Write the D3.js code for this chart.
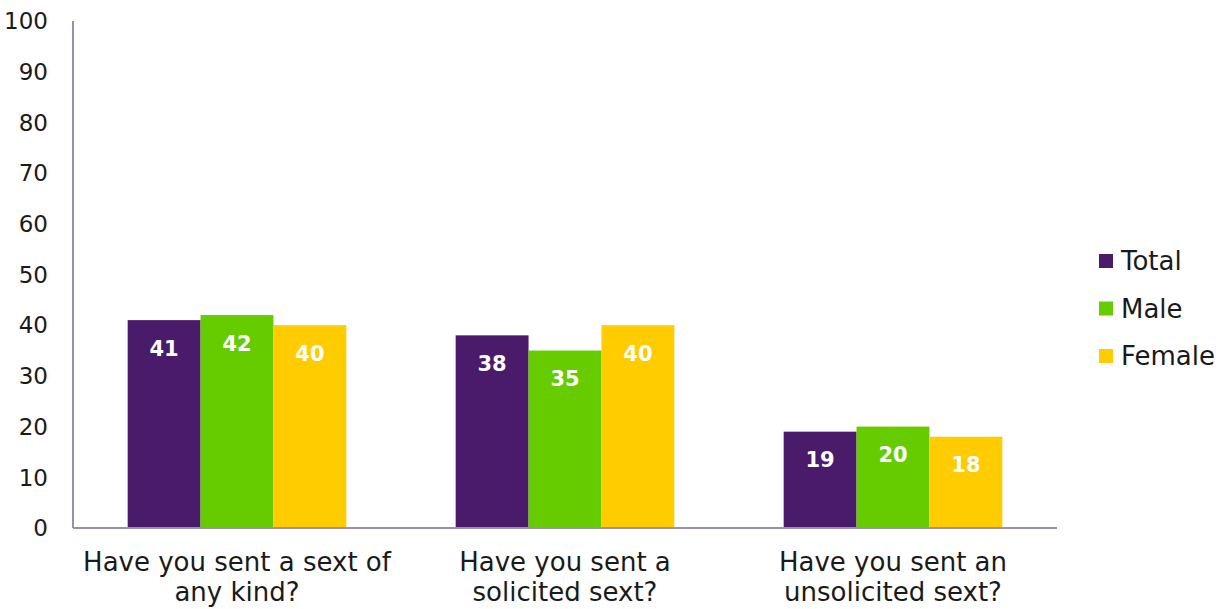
<!DOCTYPE html>
<html>
<head>
<meta charset="utf-8">
<script src="https://cdn.jsdelivr.net/npm/d3@7"></script>
<style>
  body { margin: 0; background: #fff; }
  svg text { font-family: "DejaVu Sans", sans-serif; fill: #1a1a1a; }
</style>
</head>
<body>
<svg id="chart" width="1228" height="609"></svg>
<script>
var categories = [["Have you sent a sext of", "any kind?"], ["Have you sent a", "solicited sext?"], ["Have you sent an", "unsolicited sext?"]];
var seriesNames = ["Total", "Male", "Female"];
var total = [41, 38, 19];
var male = [42, 35, 20];
var female = [40, 40, 18];
var yTicks = [0, 10, 20, 30, 40, 50, 60, 70, 80, 90, 100];
var colors = ["#4a1a6b", "#66cc00", "#ffcc00"];

var series = [total, male, female];

var svg = d3.select("#chart"),
    margin = {top: 21, right: 171, bottom: 81, left: 73},
    width = +svg.attr("width") - margin.left - margin.right,
    height = +svg.attr("height") - margin.top - margin.bottom;

var g = svg.append("g").attr("transform", "translate(" + margin.left + "," + margin.top + ")");

var x0 = d3.scaleBand().domain(d3.range(categories.length)).range([0, width]).paddingInner(0).paddingOuter(0);
var x1 = d3.scaleBand().domain(d3.range(seriesNames.length)).range([0, x0.bandwidth()]).paddingInner(0).paddingOuter(0.75);
var y = d3.scaleLinear().domain([0, 100]).range([height, 0]);

// y tick labels
g.selectAll(".ytick").data(yTicks).enter().append("text")
    .attr("x", -25)
    .attr("y", function (d) { return y(d); })
    .attr("dy", "0.36em")
    .attr("text-anchor", "end")
    .style("font-size", "23px")
    .text(function (d) { return d; });

// bars
var groups = g.selectAll(".grp").data(categories).enter().append("g")
    .attr("transform", function (d, i) { return "translate(" + x0(i) + ",0)"; });

groups.each(function (c, ci) {
    var gg = d3.select(this);
    series.forEach(function (s, si) {
        gg.append("rect")
            .attr("x", x1(si))
            .attr("width", x1.bandwidth())
            .attr("y", y(s[ci]))
            .attr("height", height - y(s[ci]))
            .attr("fill", colors[si]);
        gg.append("text")
            .attr("x", x1(si) + x1.bandwidth() / 2)
            .attr("y", y(s[ci]) + 28)
            .attr("dy", "0.36em")
            .attr("text-anchor", "middle")
            .style("font-size", "21px")
            .style("font-weight", "bold")
            .style("fill", "#fff")
            .text(s[ci]);
    });
    // category label
    var t = gg.append("text")
        .attr("x", x0.bandwidth() / 2)
        .attr("y", height + 34)
        .attr("text-anchor", "middle")
        .style("font-size", "26px");
    c.forEach(function (line, li) {
        t.append("tspan").attr("x", x0.bandwidth() / 2).attr("dy", li === 0 ? "0.36em" : "1.15em").text(line);
    });
});

// axis lines
g.append("line").attr("x1", 0).attr("x2", 0).attr("y1", 0).attr("y2", height)
    .attr("stroke", "#9b8fb0").attr("stroke-width", 2);
g.append("line").attr("x1", 0).attr("x2", width).attr("y1", height).attr("y2", height)
    .attr("stroke", "#9b8fb0").attr("stroke-width", 2);

// legend
var legend = svg.append("g").attr("transform", "translate(1099,261)");
seriesNames.forEach(function (n, i) {
    var lg = legend.append("g").attr("transform", "translate(0," + (i * 47.5) + ")");
    lg.append("rect").attr("x", 0).attr("y", -7).attr("width", 14).attr("height", 14).attr("fill", colors[i]);
    lg.append("text").attr("x", 22).attr("y", 0).attr("dy", "0.36em")
        .style("font-size", "26px").text(n);
});
</script>
</body>
</html>
